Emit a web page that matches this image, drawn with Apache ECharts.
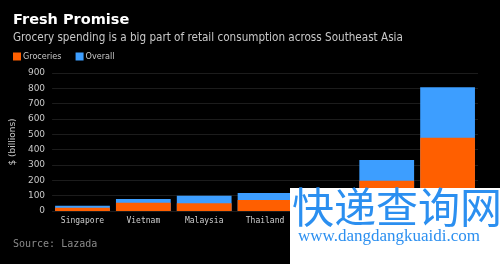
<!DOCTYPE html>
<html><head><meta charset="utf-8">
<script src="https://cdn.jsdelivr.net/npm/echarts@6/dist/echarts.min.js"></script>
<style>html,body{margin:0;padding:0;background:#000;}#c{width:500px;height:264px;}</style>
</head><body><div id="c"></div>
<script>
const categories = ['Singapore','Vietnam','Malaysia','Thailand','Philippines','Indonesia','Total'];
const groceries = [22, 54, 50, 72, 82, 198, 478];
const overall = [35, 78, 100, 117, 144, 333, 807];
const yTicks = [0,100,200,300,400,500,600,700,800,900];

const chart = echarts.init(document.getElementById('c'), null, {renderer:'canvas'});
chart.setOption({
  backgroundColor: '#000',
  animation: false,
  title: [
    {text:'Fresh Promise', left: 13, top: 13, padding:0, textStyle:{color:'#fff', fontSize:14.5, fontWeight:'bold', fontFamily:'DejaVu Sans'}},
    {text:'Grocery spending is a big part of retail consumption across Southeast Asia', left: 13, top: 32, padding:0, textStyle:{color:'#c8c8c8', fontSize:11.6, fontWeight:'normal', fontFamily:'DejaVu Sans Condensed'}},
    {text:'Source: Lazada', left: 13, top: 239, padding:0, textStyle:{color:'#8a8a8a', fontSize:10, fontWeight:'normal', fontFamily:'DejaVu Sans Mono'}}
  ],
  legend: {
    left: 13, top: 52, padding:0, itemWidth: 8, itemHeight: 8, itemGap: 14,
    icon: 'rect',
    textStyle: {color:'#c8c8c8', fontSize:9, fontFamily:'DejaVu Sans Condensed', padding:[0,0,0,-3]},
    data: ['Groceries','Overall']
  },
  grid: {left: 44, right: 22, top: 73, bottom: 53},
  xAxis: {
    type:'category', data: categories,
    axisLine:{show:false}, axisTick:{show:false},
    axisLabel:{color:'#d0d0d0', fontSize:8, fontFamily:'DejaVu Sans Mono', margin:6, interval:0}
  },
  yAxis: {
    type:'value', min: yTicks[0], max: yTicks[yTicks.length-1], interval: 100,
    name: '$ (billions)', nameLocation:'middle', nameGap: 26, nameRotate: 90,
    nameTextStyle:{color:'#c8c8c8', fontSize:9, fontFamily:'DejaVu Sans'},
    axisLabel:{color:'#c8c8c8', fontSize:9, fontFamily:'DejaVu Sans', margin:7},
    splitLine:{lineStyle:{color:'#1c1c1c', width:1}},
    axisLine:{show:false}, axisTick:{show:false}
  },
  series: [
    {name:'Overall', type:'bar', data: overall, barCategoryGap:'10%', barGap:'-100%', itemStyle:{color:'#3d9eff'}, z:1},
    {name:'Groceries', type:'bar', data: groceries, barCategoryGap:'10%', barGap:'-100%', itemStyle:{color:'#ff5f00'}, z:2}
  ],
  color: ['#3d9eff','#ff5f00'],
  graphic: [
    {type:'rect', left: 290, top: 188, shape:{width:210, height:76}, style:{fill:'#fff'}, z:100},
    {type:'text', left: 292, top: 186, style:{text:'快递查询网', fill:'#2b8ff0', font:'42px "Noto Sans CJK SC"'}, z:101},
    {type:'text', left: 298, top: 228, style:{text:'www.dangdangkuaidi.com', fill:'#2b8ff0', font:'17px "Liberation Serif"'}, z:101}
  ]
});
</script></body></html>
